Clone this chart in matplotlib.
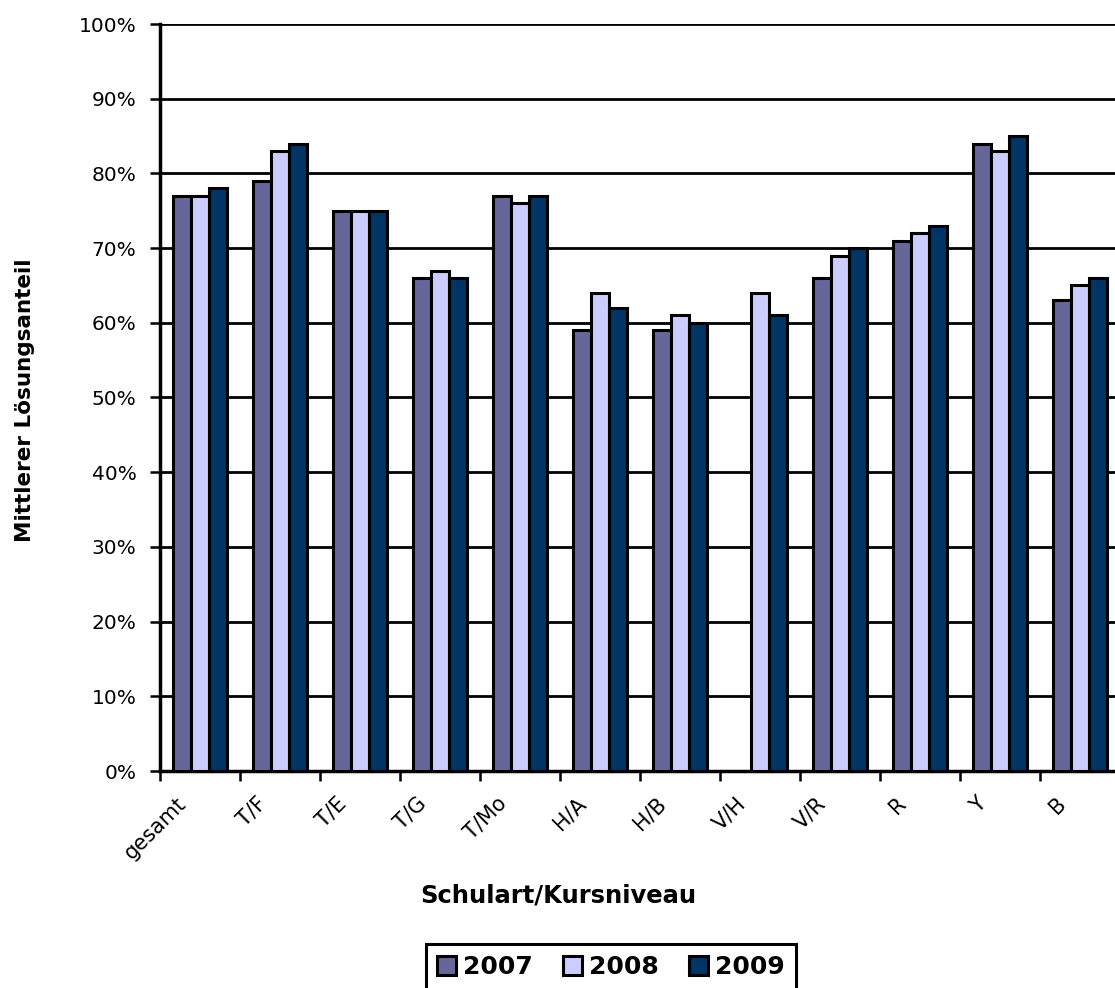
import numpy as np
import matplotlib
matplotlib.use("Agg")
import matplotlib.pyplot as plt
from matplotlib.ticker import FuncFormatter
import matplotlib.transforms as mtransforms

# data (percent)
categories = ["gesamt", "T/F", "T/E", "T/G", "T/Mo", "H/A", "H/B",
              "V/H", "V/R", "R", "Y", "B"]
years = ["2007", "2008", "2009"]
vals_2007 = [77, 79, 75, 66, 77, 59, 59, np.nan, 66, 71, 84, 63]
vals_2008 = [77, 83, 75, 67, 76, 64, 61, 64, 69, 72, 83, 65]
vals_2009 = [78, 84, 75, 66, 77, 62, 60, 61, 70, 73, 85, 66]
colors = ["#666699", "#CCCCFF", "#003366"]

plt.rcParams['font.family'] = ['DejaVu Sans']

W, H = 1115, 988
fig = plt.figure(figsize=(W / 100, H / 100), dpi=100)

# axes in pixel terms: left 160, right 1120 (runs past the edge), top 24, bottom 771
ax = fig.add_axes([160 / W, (H - 771) / H, 960 / W, 747 / H])

x = np.arange(len(categories))
bw = 0.225
for i, (vals, c, yr) in enumerate(zip([vals_2007, vals_2008, vals_2009], colors, years)):
    ax.bar(x + (i - 1) * bw, vals, width=bw, color=c, edgecolor="black",
           linewidth=2.2, label=yr, zorder=3)

ax.set_xlim(-0.5, len(categories) - 0.5)
ax.set_ylim(0, 100)

# gridlines
ax.set_yticks(np.arange(0, 101, 10))
ax.yaxis.set_major_formatter(FuncFormatter(lambda v, p: f"{int(v)}%"))
ax.grid(axis="y", color="black", linewidth=2, zorder=0)
ax.set_axisbelow(True)

for s in ["top", "right"]:
    ax.spines[s].set_visible(False)
ax.spines["left"].set_linewidth(2.5)
ax.spines["bottom"].set_linewidth(2.5)

ax.tick_params(axis="y", length=7, width=1.8, pad=10, labelsize=14.5, colors="black")

# boundary ticks (major) and centred labels (minor)
ax.set_xticks(np.arange(len(categories) + 1) - 0.5)
ax.set_xticklabels([])
ax.tick_params(axis="x", which="major", length=7, width=1.8)
ax.set_xticks(x, minor=True)
ax.set_xticklabels(categories, minor=True, rotation=45, ha="right",
                   rotation_mode="anchor", fontsize=15)
ax.tick_params(axis="x", which="minor", length=0, pad=16)
offset = mtransforms.ScaledTranslation(-24 / 100, 0, fig.dpi_scale_trans)
for lbl in ax.get_xticklabels(minor=True):
    lbl.set_transform(lbl.get_transform() + offset)

fig.text(25 / W, 1 - 400 / H, "Mittlerer Lösungsanteil", rotation=90,
         ha="center", va="center", fontsize=15.5, fontweight="bold")
fig.text(558 / W, 1 - 895 / H, "Schulart/Kursniveau", ha="center",
         va="center", fontsize=17.5, fontweight="bold")

leg = fig.legend(loc="upper center", bbox_to_anchor=(611 / W, 1 - 944 / H),
                 ncol=3, frameon=True, fancybox=False, framealpha=1,
                 prop={"weight": "bold", "size": 18},
                 handlelength=0.75, handleheight=0.75, handletextpad=0.3,
                 columnspacing=1.2, borderpad=0.45, borderaxespad=0)
leg.get_frame().set_edgecolor("black")
leg.get_frame().set_linewidth(2.2)

fig.savefig("out.png", dpi=100)
